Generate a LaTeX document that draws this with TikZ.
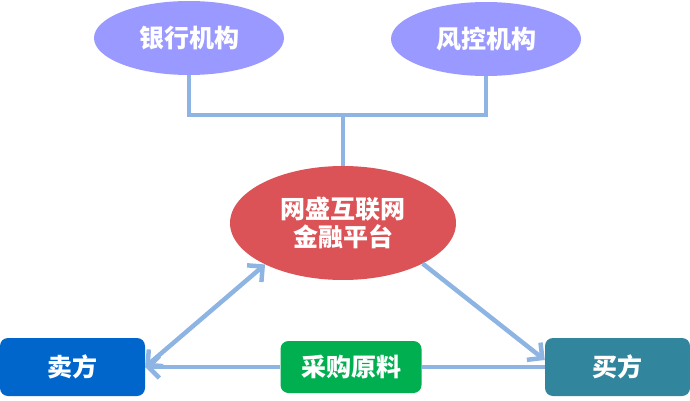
\documentclass[tikz,border=0pt]{standalone}
\usepackage{fontspec}
\newfontfamily\cjk{Noto Sans CJK SC}
\usetikzlibrary{shapes.geometric,arrows.meta}
\definecolor{lav}{HTML}{9999FF}
\definecolor{redc}{HTML}{DB5356}
\definecolor{sellc}{HTML}{0066CC}
\definecolor{buyc}{HTML}{31859C}
\definecolor{greenc}{HTML}{00B050}
\definecolor{linec}{HTML}{8DB4E2}
\begin{document}
\begin{tikzpicture}[x=1pt,y=-1pt,
  lbl/.style={text=white,font=\cjk\bfseries\fontsize{25}{28}\selectfont,inner sep=0pt},
  oval/.style={lbl,ellipse,fill=lav,minimum width=190pt,minimum height=74pt},
  boxn/.style={lbl,rectangle,rounded corners=8pt,minimum width=145pt,minimum height=58pt},
  conn/.style={draw=linec,line width=4.5pt},
  barb/.tip={Straight Barb[length=11pt,width=22pt,line width=4.5pt]},
  tip/.style={-barb}
]
\useasboundingbox (0,0) rectangle (690,401);
\node[oval] (bank) at (189,38) {银行机构};
\node[oval] (risk) at (486,39) {风控机构};
\node[lbl,ellipse,fill=redc,minimum width=226pt,minimum height=114pt,align=center] (plat) at (343,223) {网盛互联网\\金融平台};
\node[boxn,fill=sellc] (seller) at (72.5,367) {卖方};
\node[boxn,fill=buyc] (buyer) at (617.5,367) {买方};
\node[boxn,fill=greenc,minimum width=141pt,minimum height=52pt] (goods) at (351,367) {采购原料};
\coordinate (j) at (343,115);
\draw[conn] (bank.south) |- (j) -| (risk.south);
\draw[conn] (j) -- (plat.north);
\draw[conn,barb-barb] (seller.east) -- (plat.208);
\draw[conn,tip] (plat.333) -- ([yshift=7pt]buyer.west);
\draw[conn,tip] (goods.west) -- (seller.east);
\draw[conn] (goods.east) -- (buyer.west);
\end{tikzpicture}
\end{document}
